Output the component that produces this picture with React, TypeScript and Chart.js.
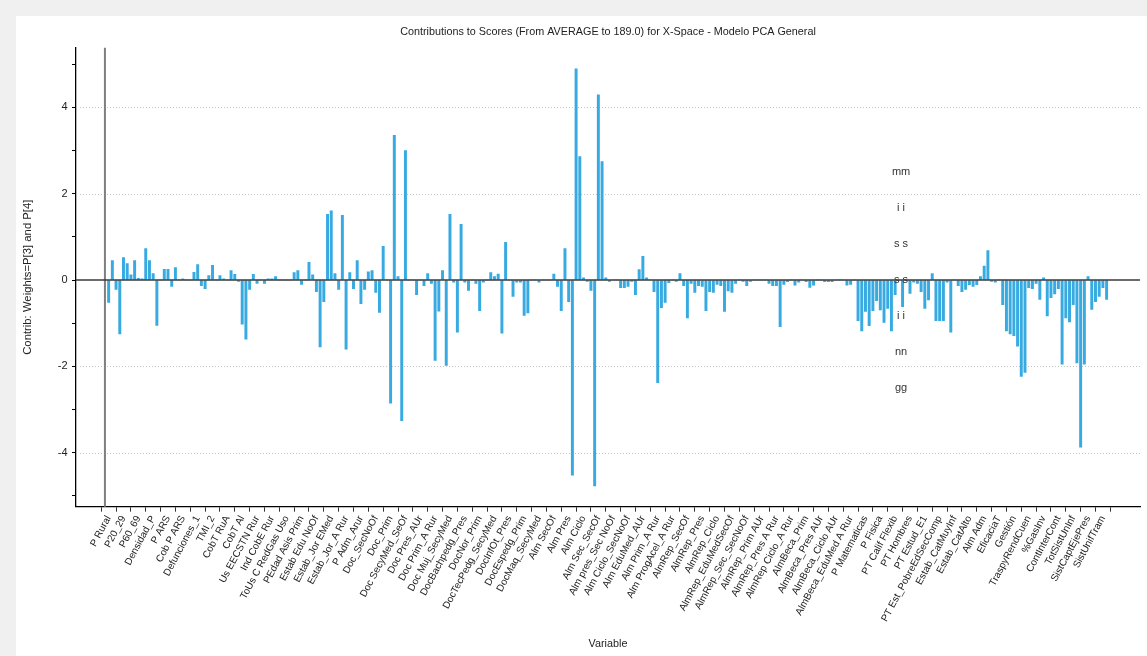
import React, { useEffect, useRef } from 'react';
import { Chart, registerables } from 'chart.js';

Chart.register(...registerables);

// Labels shown on the x axis (one every 4 variables)
const tickLabels: string[] = [
  'P Rural', 'P20_29', 'P60_69', 'Densidad_P', 'P ARS', 'Cob P ARS', 'Defunciones_1', 'TMI_2',
  'CobT RuA', 'CobT Al', 'Us EECSTN Rur', 'Ind CobE Rur', 'ToUs C RedGas Uso', 'PEdad Asis Prim',
  'Estab Edu NoOf', 'Estab_Jor EMed', 'Estab_Jor_A Rur', 'P Adm_Arur', 'Doc_SecNoOf', 'Doc_Prim',
  'Doc SecyMed_SeOf', 'Doc Pres_AUr', 'Doc Prim_A Rur', 'Doc Muj_SecyMed', 'DocBachpedg_Pres',
  'DocNor_Prim', 'DocTecPedg_SecyMed', 'DocInfOt_Pres', 'DocEspedg_Prim', 'DocMaq_SecyMed',
  'Alm SecOf', 'Alm Pres', 'Alm Ciclo', 'Alm Sec_SecOf', 'Alm pres_Sec NoOf', 'Alm Ciclo_SecNoOf',
  'Alm EduMed_AUr', 'Alm Prim_A Rur', 'Alm ProgAcel_A Rur', 'AlmRep_SecOf', 'AlmRep_Pres',
  'AlmRep_Ciclo', 'AlmRep_EduMedSecOf', 'AlmRep_Sec_SecNoOf', 'AlmRep_Prim AUr', 'AlmRep_Pres A Rur',
  'AlmRep Ciclo_A Rur', 'AlmBeca_Prim', 'AlmBeca_Pres AUr', 'AlmBeca_Ciclo AUr',
  'AlmBeca_EduMed A Rur', 'P Matematicas', 'P Fisica', 'PT Calif Flexib', 'PT Hombres',
  'PT Estud_E1', 'PT Est_PobreEdSecComp', 'Estab_CatMuyInf', 'Estab_CatAlto', 'Alm Adm',
  'EficaciaT', 'Gestión', 'TraspyRendCuen', '%GasInv', 'ContInterCont', 'TotSistUnInf',
  'SistCaptEjePres', 'SistUnifTram',
];

// Contribution of every variable (270 bars)
const contributions: number[] = [
  -0.52, 0.45, -0.22, -1.25, 0.52, 0.38, 0.12, 0.45, 0.04, 0.03,
  0.73, 0.45, 0.15, -1.05, 0, 0.25, 0.25, -0.15, 0.29, 0,
  0.03, 0, 0, 0.18, 0.36, -0.13, -0.2, 0.1, 0.34, 0,
  0.1, 0.03, 0, 0.22, 0.13, -0.03, -1.02, -1.37, -0.22, 0.13,
  -0.08, 0, -0.08, 0.03, 0.03, 0.08,
  0, 0, 0, 0, 0.17, 0.22, -0.1, 0, 0.41, 0.12,
  -0.27, -1.55, -0.5, 1.52, 1.6, 0.15, -0.22, 1.5, -1.6, 0.17,
  -0.2, 0.45, -0.55, -0.22, 0.19, 0.22, -0.29, -0.75, 0.78, 0,
  -2.85, 3.35, 0.08, -3.26, 3.0, 0, 0, -0.34, 0, -0.13,
  0.15, -0.08, -1.86, -0.72, 0.22, -1.98,
  1.52, -0.05, -1.21, 1.29, -0.05, -0.24, 0, -0.08, -0.71, -0.05,
  0, 0.17, 0.08, 0.14, -1.23, 0.87, 0, -0.38, -0.05, -0.05,
  -0.82, -0.76, 0, 0, -0.05, 0, 0, 0, 0.14, -0.15,
  -0.71, 0.73, -0.5, -4.52, 4.89, 2.86, 0.05, -0.03, -0.24, -4.77,
  4.29, 2.74, 0.05, -0.03,
  0, 0, -0.18, -0.18, -0.15, -0.03, -0.34, 0.24, 0.55, 0.05,
  0, -0.27, -2.38, -0.64, -0.52, -0.06, 0, -0.03, 0.15, -0.13,
  -0.88, -0.08, -0.29, -0.13, -0.15, -0.71, -0.27, -0.29, -0.1, -0.13,
  -0.73, -0.25, -0.29, -0.08, 0, -0.03, -0.13, -0.03, 0, 0,
  0, 0, -0.08, -0.13, -0.13, -1.08, -0.1,
  -0.04, 0, -0.12, -0.05, 0, -0.04, -0.17, -0.12, 0, 0,
  -0.04, -0.04, -0.04, 0, 0, 0, -0.12, -0.1, 0, -0.94,
  -1.18, -0.73, -1.06, -0.71, -0.48, -0.69, -0.98, -0.66, -1.18, -0.34,
  0, -0.62, 0, -0.31, -0.05, -0.08, -0.27, -0.66, -0.46, 0.15,
  -0.94, -0.94, -0.94, -0.05, -1.21,
  0, -0.13, -0.27, -0.22, -0.11, -0.15, -0.11, 0.08, 0.32, 0.68,
  -0.03, -0.05, 0, -0.57, -1.18, -1.25, -1.29, -1.53, -2.23, -2.14,
  -0.18, -0.2, -0.08, -0.45, 0.05, -0.83, -0.41, -0.32, -0.2, -1.95,
  -0.88, -0.97, -0.57, -1.92, -3.87, -1.95, 0.08, -0.68, -0.5, -0.38,
  -0.18, -0.45,
];

const LABEL_EVERY = 4;
const yTickValues: number[] = [-5, -4, -3, -2, -1, 0, 1, 2, 3, 4, 5];
const yLabelValues: number[] = [-4, -2, 0, 2, 4];
const yGridValues: number[] = [-4, -2, 2, 4];
const xRange: number[] = [-8.8, 278];
const yRange: number[] = [-5.25, 5.38];
const separatorValue = -1;
const missingX = 213.6;
const missingTexts: string[] = ['mm', 'i i', 's s', 's s', 'i i', 'nn', 'gg'];
const missingYs: number[] = [2.5, 1.667, 0.833, 0, -0.833, -1.667, -2.5];

const TITLE = 'Contributions to Scores (From AVERAGE to 189.0) for X-Space - Modelo PCA General';
const FONT = "'Liberation Sans', Arial, sans-serif";
const TEXT = '#222222';
const BAR = '#38aae2';

const decorPlugin = {
  id: 'decor',
  beforeDraw(chart: any) {
    const { ctx, width, height } = chart;
    ctx.save();
    ctx.fillStyle = '#f0f0f0';
    ctx.fillRect(0, 0, width, height);
    ctx.fillStyle = '#ffffff';
    ctx.fillRect(16, 16, width - 16, height - 16);
    ctx.restore();
  },
  beforeDatasetsDraw(chart: any) {
    const { ctx, chartArea } = chart;
    const x = chart.scales.x;
    const y = chart.scales.y;
    ctx.save();
    ctx.strokeStyle = '#c4c4c4';
    ctx.lineWidth = 1;
    ctx.setLineDash([1, 2]);
    yGridValues.forEach((v) => {
      const py = Math.round(y.getPixelForValue(v)) + 0.5;
      ctx.beginPath();
      ctx.moveTo(chartArea.left + 4, py);
      ctx.lineTo(chartArea.right, py);
      ctx.stroke();
    });
    ctx.setLineDash([]);
    ctx.strokeStyle = '#7f7f7f';
    ctx.lineWidth = 2;
    const sx = x.getPixelForValue(separatorValue);
    ctx.beginPath();
    ctx.moveTo(sx, chartArea.top);
    ctx.lineTo(sx, chartArea.bottom);
    ctx.stroke();
    ctx.restore();
  },
  afterDatasetsDraw(chart: any) {
    const { ctx, chartArea } = chart;
    const x = chart.scales.x;
    const y = chart.scales.y;
    ctx.save();
    ctx.strokeStyle = '#3a3a3a';
    ctx.lineWidth = 1.6;
    const zy = y.getPixelForValue(0);
    ctx.beginPath();
    ctx.moveTo(chartArea.left, zy);
    ctx.lineTo(chartArea.right, zy);
    ctx.stroke();
    ctx.fillStyle = '#333333';
    ctx.font = `11px ${FONT}`;
    ctx.textAlign = 'center';
    ctx.textBaseline = 'middle';
    const mx = x.getPixelForValue(missingX);
    missingTexts.forEach((t, i) => {
      ctx.fillText(t, mx, y.getPixelForValue(missingYs[i]));
    });
    // chart title, centred over the plot area
    ctx.fillStyle = TEXT;
    ctx.font = `10.8px ${FONT}`;
    ctx.fillText(TITLE, (chartArea.left + chartArea.right) / 2, 32);
    ctx.restore();
  },
};

export default function App() {
  const ref = useRef<HTMLCanvasElement>(null);
  useEffect(() => {
    if (!ref.current) return;
    const chart = new Chart(ref.current, {
      type: 'bar',
      data: {
        datasets: [
          {
            data: contributions.map((v, i) => ({ x: i, y: v })),
            backgroundColor: BAR,
            borderWidth: 0,
            barThickness: 2.3,
          },
        ],
      },
      options: {
        animation: false,
        responsive: false,
        maintainAspectRatio: false,
        layout: { padding: { left: 16, top: 47.7, right: 7, bottom: 0 } },
        plugins: {
          legend: { display: false },
          tooltip: { enabled: false },
          title: { display: false },
        },
        scales: {
          x: {
            type: 'linear',
            min: xRange[0],
            max: xRange[1],
            bounds: 'data',
            offset: false,
            afterBuildTicks: (s: any) => {
              s.ticks = tickLabels.map((_, i) => ({ value: i * LABEL_EVERY }));
            },
            afterFit: (s: any) => {
              s.height = 149.3;
            },
            ticks: {
              autoSkip: false,
              minRotation: 62,
              maxRotation: 62,
              padding: 2,
              color: TEXT,
              font: { family: FONT, size: 10 },
              callback: (_v: any, i: number) => tickLabels[i] ?? '',
            },
            grid: { drawOnChartArea: false, tickLength: 5, tickColor: '#333333', color: '#333333' },
            border: { color: '#000000', width: 1.3 },
            title: {
              display: true,
              text: 'Variable',
              color: TEXT,
              font: { family: FONT, size: 10.8 },
              padding: { top: 0, bottom: 5.5 },
            },
          },
          y: {
            type: 'linear',
            min: yRange[0],
            max: yRange[1],
            bounds: 'data',
            afterBuildTicks: (s: any) => {
              s.ticks = yTickValues.map((v) => ({ value: v }));
            },
            afterFit: (s: any) => {
              s.width = 60;
            },
            ticks: {
              padding: 4.5,
              color: TEXT,
              font: { family: FONT, size: 11 },
              callback: (v: any) => (yLabelValues.includes(Number(v)) ? String(v) : ''),
            },
            grid: { drawOnChartArea: false, tickLength: 4, tickColor: '#000000', color: '#000000' },
            border: { color: '#000000', width: 1.3 },
            title: {
              display: true,
              text: 'Contrib: Weights=P[3] and P[4]',
              color: TEXT,
              font: { family: FONT, size: 11.3 },
              padding: { top: 5.5, bottom: 0 },
            },
          },
        },
      },
      plugins: [decorPlugin],
    } as any);
    return () => chart.destroy();
  }, []);
  return (
    <div style={{ position: 'absolute', left: 0, top: 0, width: 1147, height: 656 }}>
      <canvas ref={ref} width={1147} height={656} style={{ display: 'block', width: 1147, height: 656 }} />
    </div>
  );
}
